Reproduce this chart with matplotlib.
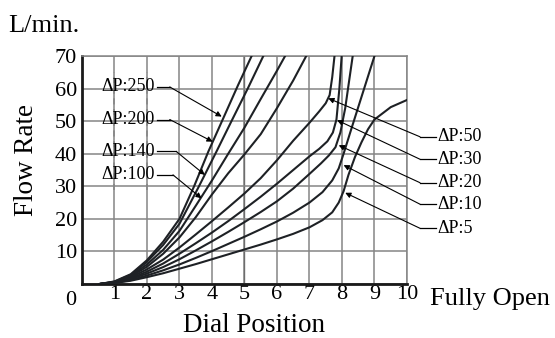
import matplotlib
matplotlib.use('Agg')
import matplotlib.pyplot as plt
from matplotlib.patches import Rectangle
import numpy as np

plt.rcParams['font.family'] = ['Liberation Serif', 'DejaVu Serif']
plt.rcParams['font.size'] = 16

#%% data (flow rate in L/min vs dial position)

labels = ['ΔP:250', 'ΔP:200', 'ΔP:140', 'ΔP:100', 'ΔP:50', 'ΔP:30', 'ΔP:20', 'ΔP:10', 'ΔP:5']

x250 = [0.55, 1.0, 1.5, 2.0, 2.5, 3.0, 3.45, 3.89, 4.33, 4.8, 5.22]
y250 = [0, 0.8, 3.0, 7.3, 13.0, 20.0, 30.0, 40.7, 50.5, 61.0, 70.0]

x200 = [0.55, 1.0, 1.5, 2.0, 2.5, 3.0, 3.6, 4.14, 4.6, 5.1, 5.58]
y200 = [0, 0.7, 2.8, 6.8, 12.0, 18.5, 30.0, 40.7, 50.0, 60.0, 70.0]

x140 = [0.55, 1.0, 1.5, 2.0, 2.5, 3.0, 3.5, 4.0, 4.5, 5.0, 5.5, 6.0, 6.25]
y140 = [0, 0.6, 2.5, 6.0, 10.5, 16.3, 24.0, 31.8, 40.0, 48.0, 56.8, 65.5, 70.0]

x100 = [0.55, 1.0, 1.5, 2.0, 2.5, 3.0, 3.5, 4.0, 4.5, 5.0, 5.5, 6.0, 6.5, 6.9]
y100 = [0, 0.6, 2.3, 5.3, 9.3, 14.3, 20.5, 27.5, 34.0, 39.8, 46.0, 54.0, 62.5, 70.0]

x50 = [0.55, 1.0, 1.5, 2.0, 2.5, 3.0, 3.5, 4.0, 4.5, 5.0, 5.5, 6.0, 6.5, 7.0, 7.3, 7.5, 7.62, 7.7, 7.77]
y50 = [0, 0.5, 2.0, 4.5, 7.5, 11.2, 15.2, 19.3, 23.5, 27.8, 32.5, 38.0, 44.0, 49.5, 53.0, 55.5, 58.0, 63.5, 70.0]

x30 = [0.55, 1.0, 1.5, 2.0, 2.5, 3.0, 3.5, 4.0, 4.5, 5.0, 5.5, 6.0, 6.5, 7.0, 7.3, 7.55, 7.72, 7.83, 7.92, 7.99]
y30 = [0, 0.45, 1.7, 3.8, 6.3, 9.3, 12.5, 15.8, 19.3, 23.0, 26.8, 30.8, 35.0, 39.2, 41.5, 43.8, 46.5, 50.5, 60.0, 70.0]

x20 = [0.55, 1.0, 1.5, 2.0, 2.5, 3.0, 3.5, 4.0, 4.5, 5.0, 5.5, 6.0, 6.5, 7.0, 7.35, 7.6, 7.8, 7.95, 8.1, 8.2, 8.33]
y20 = [0, 0.4, 1.5, 3.2, 5.2, 7.6, 10.3, 13.1, 16.0, 19.0, 22.1, 25.4, 29.3, 33.8, 37.0, 39.5, 42.0, 46.5, 54.0, 61.0, 70.0]

x10 = [0.55, 1.0, 1.5, 2.0, 2.5, 3.0, 3.5, 4.0, 4.5, 5.0, 5.5, 6.0, 6.5, 7.0, 7.4, 7.7, 7.9, 8.05, 8.3, 8.65, 9.0]
y10 = [0, 0.35, 1.2, 2.6, 4.2, 6.0, 8.0, 10.1, 12.3, 14.5, 16.8, 19.2, 21.9, 25.0, 28.2, 31.8, 35.5, 40.0, 48.0, 59.0, 70.0]

x5 = [0.55, 1.0, 1.5, 2.0, 2.5, 3.0, 3.5, 4.0, 4.5, 5.0, 5.5, 6.0, 6.5, 7.0, 7.4, 7.7, 7.9, 8.05, 8.2, 8.4, 8.6, 8.8, 9.0, 9.5, 10.0]
y5 = [0, 0.3, 1.0, 2.1, 3.3, 4.7, 6.1, 7.6, 9.1, 10.6, 12.1, 13.7, 15.4, 17.4, 19.6, 22.0, 25.0, 28.5, 33.5, 39.0, 43.5, 47.5, 50.5, 54.3, 56.5]

curves_x = [x250, x200, x140, x100, x50, x30, x20, x10, x5]
curves_y = [y250, y200, y140, y100, y50, y30, y20, y10, y5]

xticks = list(range(0, 11))
xtick_labels = [''] + [str(i) for i in range(1, 11)]
yticks = list(range(0, 71, 10))
ytick_labels = [''] + [str(i) for i in range(10, 71, 10)]

#%% plot

fig = plt.figure(figsize=(5.55, 3.38), dpi=100)
ax = fig.add_axes([0.1477, 0.1598, 0.5856, 0.6745])

gc = '#858585'
ax.set_xlim(0, 10)
ax.set_ylim(0, 70)
ax.set_xticks(xticks)
ax.set_xticklabels(xtick_labels)
ax.set_yticks(yticks)
ax.set_yticklabels(ytick_labels)
ax.tick_params(length=0, labelsize=16)
ax.tick_params(axis='x', pad=1)
ax.tick_params(axis='y', pad=3.5)
ax.grid(True, color=gc, lw=1.1, zorder=0)
ax.axvline(5, color='#222222', lw=0.9, zorder=0.5)
for s in ['left', 'bottom']:
    ax.spines[s].set_linewidth(2.0)
    ax.spines[s].set_color('#1a1a1a')
for s in ['top', 'right']:
    ax.spines[s].set_linewidth(1.1)
    ax.spines[s].set_color(gc)

# blank area behind the left labels, gridlines shown broken there
ax.add_patch(Rectangle((0.45, 29), 1.9, 36, facecolor='white', edgecolor='none', zorder=1))
ax.vlines([1, 2], 29, 65, colors=gc, lw=1.1, linestyles=(0, (4, 3)), zorder=1.2)

for xs, ys in zip(curves_x, curves_y):
    ax.plot(xs, ys, color='#1e2125', lw=1.5, zorder=3, solid_joinstyle='round')

# left labels with leaders
left_y = [60.5, 50.5, 40.7, 33.5]
left_knee = [2.7, 2.7, 2.9, 2.8]
left_tip = [(4.3, 51.4), (4.02, 43.7), (3.78, 33.5), (3.68, 26.3)]
for lab, ly, kx, tip in zip(labels[:4], left_y, left_knee, left_tip):
    ax.text(1.42, ly, lab, ha='center', va='center', fontsize=13, zorder=4)
    ax.plot([2.32, kx], [ly, ly], color='k', lw=0.9, zorder=4)
    ax.annotate('', xy=tip, xytext=(kx, ly),
                arrowprops=dict(arrowstyle='-|>', mutation_scale=8, lw=0.8, color='k',
                                shrinkA=0, shrinkB=0), zorder=4)

# right labels with leaders
right_y = [45.2, 38.3, 31.1, 24.5, 17.1]
right_tip = [(7.58, 57.0), (7.85, 50.3), (7.9, 42.6), (8.05, 36.5), (8.1, 28.0)]
for lab, ly, tip in zip(labels[4:], right_y, right_tip):
    ax.text(10.95, ly, lab, ha='left', va='center', fontsize=13, clip_on=False)
    ax.plot([10.4, 10.9], [ly, ly], color='k', lw=0.9, clip_on=False, zorder=4)
    ax.annotate('', xy=tip, xytext=(10.4, ly), annotation_clip=False,
                arrowprops=dict(arrowstyle='-|>', mutation_scale=8, lw=0.8, color='k',
                                shrinkA=0, shrinkB=0), zorder=4)

ax.annotate('0', xy=(-0.35, 0), xycoords=('data', 'axes fraction'), xytext=(0, -15),
            textcoords='offset points', ha='center', va='baseline', fontsize=16,
            annotation_clip=False)
ax.annotate('Fully Open', xy=(10.71, 0), xycoords=('data', 'axes fraction'), xytext=(0, -15),
            textcoords='offset points', ha='left', va='baseline', fontsize=19,
            annotation_clip=False)

fig.text(0.047, 0.527, 'Flow Rate', rotation=90, ha='center', va='center', fontsize=19.5)
fig.text(0.4573, 0.018, 'Dial Position', ha='center', va='baseline', fontsize=19.5)
fig.text(0.0144, 1 - 32 / 338, 'L/min.', ha='left', va='baseline', fontsize=19)

fig.savefig('out.png', dpi=100)
